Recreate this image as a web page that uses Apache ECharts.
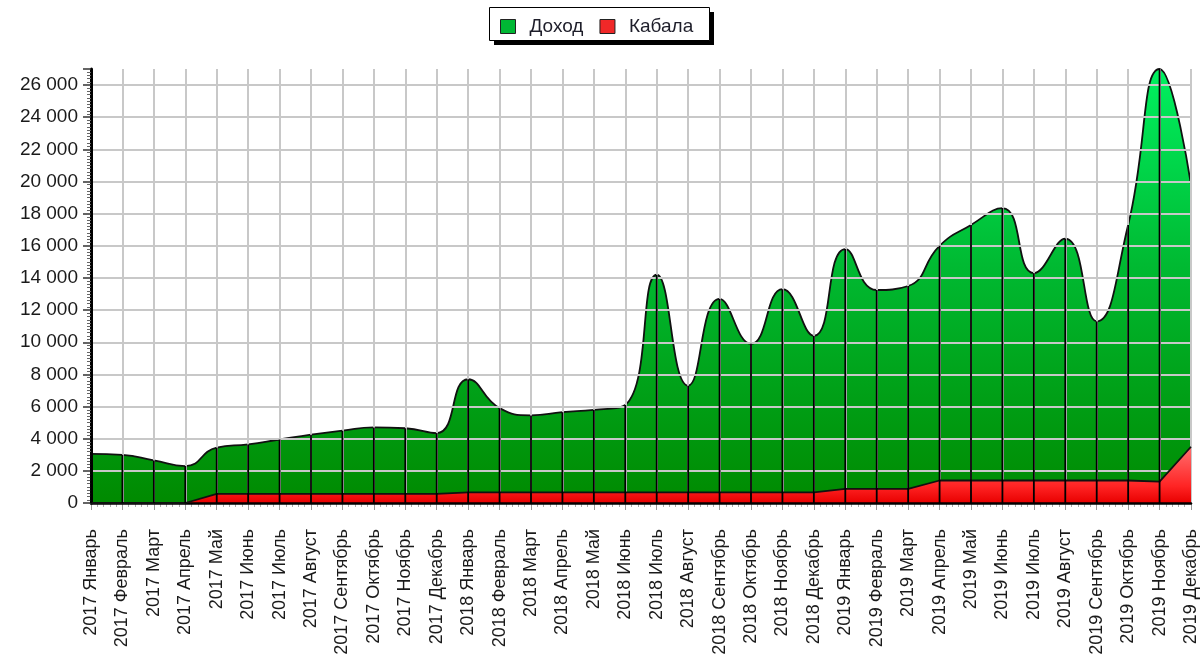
<!DOCTYPE html>
<html>
<head>
<meta charset="utf-8">
<script src="https://cdn.jsdelivr.net/npm/echarts@6/dist/echarts.min.js"></script>
<style>
  html, body { margin: 0; padding: 0; background: #fff; }
  #chart { width: 1201px; height: 664px; }
</style>
</head>
<body>
<div id="chart"></div>
<script>
// Monthly figures, 2017–2019
const months = ['Январь', 'Февраль', 'Март', 'Апрель', 'Май', 'Июнь',
                'Июль', 'Август', 'Сентябрь', 'Октябрь', 'Ноябрь', 'Декабрь'];
const years = [2017, 2018, 2019];
const categories = [];
years.forEach(y => months.forEach(m => categories.push(y + ' ' + m)));

const income = [
  3050, 3000, 2650, 2300, 3450, 3650, 3950, 4250, 4500, 4700, 4650, 4350,
  7700, 5900, 5450, 5650, 5800, 6100, 14200, 7300, 12700, 9900, 13300, 10400,
  15800, 13250, 13500, 16000, 17300, 18350, 14300, 16450, 11300, 17300, 27000, 19800
];
const debt = [
  0, 0, 0, 0, 570, 570, 570, 570, 570, 570, 570, 570,
  660, 660, 660, 660, 660, 660, 660, 660, 660, 660, 660, 660,
  880, 880, 880, 1400, 1400, 1400, 1400, 1400, 1400, 1400, 1330, 3500
];
const seriesNames = ['Доход', 'Кабала'];

const yMax = 27000;
const yStep = 2000;

const FONT = '"Liberation Sans", Arial, sans-serif';
const gridColor = '#c8c8c8';

const fmt = v => String(v).replace(/\B(?=(\d{3})+(?!\d))/g, ' ');

const chart = echarts.init(document.getElementById('chart'), null, { renderer: 'canvas' });

chart.setOption({
  animation: false,
  backgroundColor: '#ffffff',
  textStyle: { fontFamily: FONT },
  // legend frame with a hard drop shadow
  graphic: [
    { type: 'rect', z: 1, silent: true, shape: { x: 494, y: 12, width: 220, height: 33 }, style: { fill: '#000' } },
    { type: 'rect', z: 2, silent: true, shape: { x: 489.5, y: 7.5, width: 220, height: 33 }, style: { fill: '#fff', stroke: '#000', lineWidth: 1 } }
  ],
  legend: {
    left: 489,
    top: 7,
    z: 10,
    padding: [10, 11, 8, 11],
    itemWidth: 15,
    itemHeight: 14,
    itemGap: 16,
    textStyle: { fontFamily: FONT, fontSize: 19, color: '#1e1e2a', padding: [0, 0, 0, 9] },
    data: [
      { name: seriesNames[0], icon: 'rect', itemStyle: { color: '#00b834', borderColor: '#222', borderWidth: 1 } },
      { name: seriesNames[1], icon: 'rect', itemStyle: { color: '#f02828', borderColor: '#222', borderWidth: 1 } }
    ]
  },
  grid: { left: 91, right: 10, top: 69, bottom: 161 },
  xAxis: [
    {
      type: 'category',
      data: categories,
      boundaryGap: false,
      axisLine: { show: true, lineStyle: { color: '#000', width: 2.5 } },
      axisTick: { show: false },
      axisLabel: {
        rotate: 90,
        interval: 0,
        margin: 26,
        fontFamily: FONT,
        fontSize: 18,
        color: '#1a1a1a'
      },
      splitLine: { show: true, interval: 0, lineStyle: { color: gridColor, width: 2 } },
      z: 3
    },
    {
      // tick ruler under the month axis
      type: 'value',
      position: 'bottom',
      min: 0,
      max: categories.length - 1,
      interval: 1,
      axisLine: { show: false },
      axisTick: { show: true, length: 7, lineStyle: { color: '#999', width: 1 } },
      minorTick: { show: true, splitNumber: 5, length: 4, lineStyle: { color: '#aaa', width: 1 } },
      axisLabel: { show: false },
      splitLine: { show: false }
    }
  ],
  yAxis: {
    type: 'value',
    min: 0,
    max: yMax,
    interval: yStep,
    axisLine: { show: true, lineStyle: { color: '#000', width: 3 } },
    axisTick: { show: true, length: 8, lineStyle: { color: '#333', width: 1.5 } },
    minorTick: { show: true, splitNumber: 10, length: 4, lineStyle: { color: '#666', width: 1 } },
    axisLabel: {
      margin: 13,
      fontFamily: FONT,
      fontSize: 19,
      color: '#1a1a1a',
      showMaxLabel: false,
      formatter: fmt
    },
    splitLine: { show: true, showMaxLine: false, lineStyle: { color: gridColor, width: 2 } },
    z: 3
  },
  series: [
    {
      name: seriesNames[0],
      type: 'line',
      data: income,
      smooth: 0.5,
      showSymbol: false,
      symbol: 'none',
      itemStyle: { color: '#00b834' },
      lineStyle: { color: '#111', width: 1.8 },
      areaStyle: {
        opacity: 1,
        color: new echarts.graphic.LinearGradient(0, 0, 0, 1, [
          { offset: 0, color: '#00f060' },
          { offset: 0.45, color: '#00ba32' },
          { offset: 1, color: '#008a00' }
        ])
      },
      z: 2
    },
    {
      name: seriesNames[1],
      type: 'line',
      data: debt,
      showSymbol: false,
      symbol: 'none',
      itemStyle: { color: '#f02828' },
      lineStyle: { color: '#111', width: 1.8 },
      areaStyle: {
        opacity: 1,
        color: new echarts.graphic.LinearGradient(0, 0, 0, 1, [
          { offset: 0, color: '#ff7070' },
          { offset: 0.7, color: '#ff2424' },
          { offset: 1, color: '#e80000' }
        ])
      },
      z: 3
    },
    {
      // vertical drop lines from each month's income down to the axis
      type: 'custom',
      silent: true,
      z: 4,
      data: income.map((v, i) => [i, v]),
      renderItem: function (params, api) {
        const idx = api.value(0);
        if (idx === categories.length - 1) return null;
        const bottom = api.coord([idx, 0]);
        const top = api.coord([idx, api.value(1)]);
        return {
          type: 'line',
          shape: { x1: bottom[0], y1: bottom[1], x2: top[0], y2: top[1] },
          style: { stroke: '#000', lineWidth: 1.8 }
        };
      }
    }
  ]
});
</script>
</body>
</html>
